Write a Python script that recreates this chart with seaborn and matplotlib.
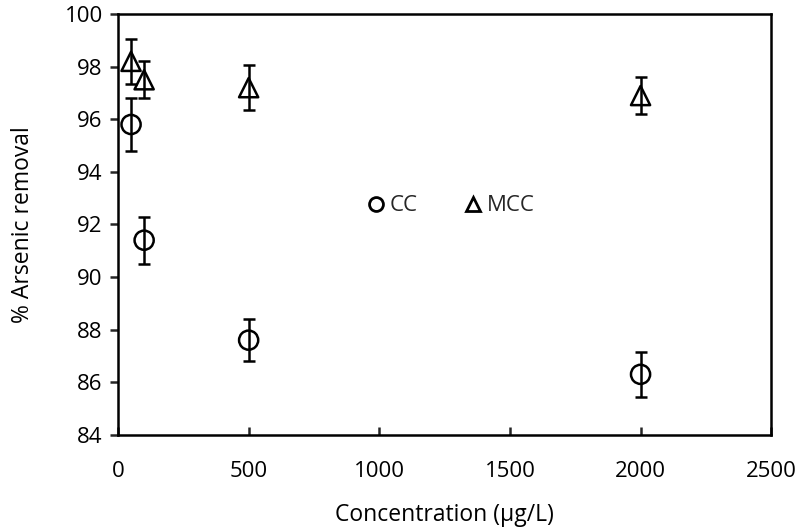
import matplotlib
matplotlib.use("Agg")
import matplotlib.pyplot as plt
from matplotlib.lines import Line2D
import seaborn as sns
import pandas as pd

# Data
conc = [50, 100, 500, 2000]
cc_removal = [95.8, 91.4, 87.6, 86.3]
cc_err = [1.0, 0.9, 0.8, 0.85]
mcc_removal = [98.2, 97.5, 97.2, 96.9]
mcc_err = [0.85, 0.7, 0.85, 0.7]

df = pd.DataFrame({
    "conc": conc + conc,
    "removal": cc_removal + mcc_removal,
    "err": cc_err + mcc_err,
    "sample": ["CC"] * len(conc) + ["MCC"] * len(conc),
})

sns.set_style("white")
plt.rcParams['font.family'] = ['Open Sans', 'DejaVu Sans']

fig = plt.figure(figsize=(8, 5.29), dpi=100)
ax = fig.add_axes([0.1475, 0.178, 0.8165, 0.7955])

# Markers
sns.scatterplot(data=df, x="conc", y="removal", style="sample",
                markers={"CC": "o", "MCC": "^"}, s=190,
                facecolor="none", edgecolor="black", linewidth=1.8,
                legend=False, ax=ax, zorder=2)

# Error bars on top of markers
ax.errorbar(df["conc"], df["removal"], yerr=df["err"], fmt="none",
            ecolor="black", elinewidth=1.8, capsize=4.5, capthick=1.8, zorder=3)

ax.set_xlim(0, 2500)
ax.set_ylim(84, 100)
ax.set_xticks(range(0, 2501, 500))
ax.set_yticks(range(84, 101, 2))

for s in ax.spines.values():
    s.set_color("black")
    s.set_linewidth(1.8)

ax.tick_params(axis="y", direction="out", length=6, width=1.8, labelsize=16,
               pad=5, left=True, labelcolor="black")
ax.tick_params(axis="x", direction="in", length=5.5, width=1.8, labelsize=16,
               pad=19, bottom=True, labelcolor="black")

ax.set_xlabel("Concentration (µg/L)", fontsize=16.5, labelpad=15, color="black")
ax.set_ylabel("% Arsenic removal", fontsize=16.5, labelpad=21, color="black")

handles = [
    Line2D([], [], marker="o", linestyle="none", markerfacecolor="none",
           markeredgecolor="black", markeredgewidth=2, markersize=10, label="CC"),
    Line2D([], [], marker="^", linestyle="none", markerfacecolor="none",
           markeredgecolor="black", markeredgewidth=2, markersize=10, label="MCC"),
]
ax.legend(handles=handles, ncol=2, frameon=False, fontsize=16,
          loc="center", bbox_to_anchor=(0.507, 0.544),
          handletextpad=0.1, columnspacing=1.9, handlelength=1.1)

fig.savefig("out.png", dpi=100)
